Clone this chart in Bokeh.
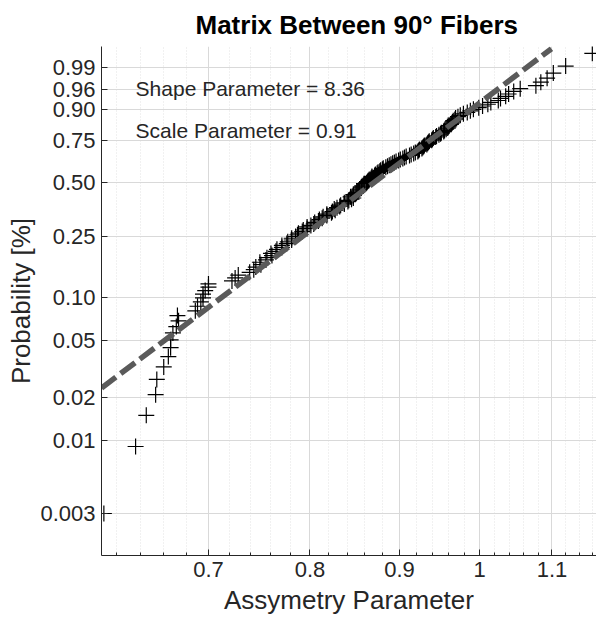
import numpy as np
from bokeh.plotting import figure
from bokeh.models import FixedTicker, Range1d, Label
from bokeh.embed import file_html
from bokeh.resources import INLINE

# ---- data ----
asym = [
    0.610, 0.636, 0.645, 0.653, 0.654, 0.660, 0.664, 0.666, 0.666, 0.668,
    0.671, 0.673, 0.672, 0.688, 0.690, 0.693, 0.695, 0.695, 0.697, 0.700,
    0.700, 0.722, 0.725, 0.728, 0.739, 0.743, 0.745, 0.750, 0.749, 0.755,
    0.756, 0.761, 0.760, 0.765, 0.766, 0.771, 0.771, 0.776, 0.777, 0.781,
    0.781, 0.785, 0.787, 0.788, 0.792, 0.793, 0.797, 0.797, 0.801, 0.804,
    0.805, 0.809, 0.810, 0.813, 0.814, 0.818, 0.818, 0.823, 0.824, 0.827,
    0.826, 0.829, 0.832, 0.833, 0.837, 0.837, 0.841, 0.842, 0.845, 0.847,
    0.844, 0.847, 0.847, 0.850, 0.851, 0.852, 0.853, 0.854, 0.856, 0.856,
    0.857, 0.859, 0.859, 0.862, 0.863, 0.864, 0.865, 0.867, 0.868, 0.868,
    0.871, 0.872, 0.874, 0.875, 0.877, 0.878, 0.880, 0.881, 0.884, 0.886,
    0.888, 0.890, 0.892, 0.894, 0.896, 0.899, 0.901, 0.904, 0.906, 0.908,
    0.912, 0.914, 0.917, 0.919, 0.922, 0.923, 0.924, 0.927, 0.928, 0.929,
    0.930, 0.933, 0.934, 0.935, 0.936, 0.939, 0.940, 0.941, 0.944, 0.945,
    0.948, 0.950, 0.951, 0.954, 0.955, 0.957, 0.959, 0.960, 0.961, 0.963,
    0.964, 0.965, 0.966, 0.968, 0.969, 0.972, 0.975, 0.979, 0.984, 0.988,
    0.992, 0.999, 1.004, 1.011, 1.015, 1.025, 1.028, 1.035, 1.039, 1.046,
    1.055, 1.077, 1.084, 1.093, 1.102, 1.120, 1.160,
]

prob = [
    0.0030, 0.0090, 0.0150, 0.0210, 0.0269, 0.0329, 0.0389, 0.0449, 0.0509, 0.0569,
    0.0629, 0.0689, 0.0749, 0.0808, 0.0868, 0.0928, 0.0988, 0.1048, 0.1108, 0.1168,
    0.1228, 0.1287, 0.1347, 0.1407, 0.1467, 0.1527, 0.1587, 0.1647, 0.1707, 0.1766,
    0.1826, 0.1886, 0.1946, 0.2006, 0.2066, 0.2126, 0.2186, 0.2246, 0.2305, 0.2365,
    0.2425, 0.2485, 0.2545, 0.2605, 0.2665, 0.2725, 0.2784, 0.2844, 0.2904, 0.2964,
    0.3024, 0.3084, 0.3144, 0.3204, 0.3263, 0.3323, 0.3383, 0.3443, 0.3503, 0.3563,
    0.3623, 0.3683, 0.3743, 0.3802, 0.3862, 0.3922, 0.3982, 0.4042, 0.4102, 0.4162,
    0.4222, 0.4281, 0.4341, 0.4401, 0.4461, 0.4521, 0.4581, 0.4641, 0.4701, 0.4760,
    0.4820, 0.4880, 0.4940, 0.5000, 0.5060, 0.5120, 0.5180, 0.5240, 0.5299, 0.5359,
    0.5419, 0.5479, 0.5539, 0.5599, 0.5659, 0.5719, 0.5778, 0.5838, 0.5898, 0.5958,
    0.6018, 0.6078, 0.6138, 0.6198, 0.6257, 0.6317, 0.6377, 0.6437, 0.6497, 0.6557,
    0.6617, 0.6677, 0.6737, 0.6796, 0.6856, 0.6916, 0.6976, 0.7036, 0.7096, 0.7156,
    0.7216, 0.7275, 0.7335, 0.7395, 0.7455, 0.7515, 0.7575, 0.7635, 0.7695, 0.7754,
    0.7814, 0.7874, 0.7934, 0.7994, 0.8054, 0.8114, 0.8174, 0.8234, 0.8293, 0.8353,
    0.8413, 0.8473, 0.8533, 0.8593, 0.8653, 0.8713, 0.8772, 0.8832, 0.8892, 0.8952,
    0.9012, 0.9072, 0.9132, 0.9192, 0.9251, 0.9311, 0.9371, 0.9431, 0.9491, 0.9551,
    0.9611, 0.9671, 0.9731, 0.9790, 0.9850, 0.9910, 0.9970,
]

# fitted reference line (two end points)
fit_x = [0.6081, 1.0993]
fit_p = [0.0234, 0.9981]

y_tick_probs = [0.003, 0.01, 0.02, 0.05, 0.10, 0.25, 0.50, 0.75, 0.90, 0.96, 0.99]
y_tick_labels = ["0.003", "0.01", "0.02", "0.05", "0.10", "0.25", "0.50", "0.75", "0.90", "0.96", "0.99"]
x_ticks = [0.7, 0.8, 0.9, 1.0, 1.1]
x_tick_labels = ["0.7", "0.8", "0.9", "1", "1.1"]
x_minor_ticks = [0.62, 0.64, 0.66, 0.68, 0.72, 0.74, 0.76, 0.78, 0.82, 0.84, 0.86, 0.88,
                 0.92, 0.94, 0.96, 0.98, 1.02, 1.04, 1.06, 1.08, 1.12, 1.14, 1.16]

title_text = "Matrix Between 90° Fibers"
x_label = "Assymetry Parameter"
y_label = "Probability [%]"
shape_text = "Shape Parameter = 8.36"
scale_text = "Scale Parameter = 0.91"


def weib(p):
    p = np.asarray(p, dtype=float)
    return np.log(-np.log(1.0 - p))


FONT = "Liberation Sans"
TXT = "#262626"

p = figure(width=596, height=622, x_axis_type="log",
           x_range=Range1d(0.6081, 1.1664), y_range=Range1d(-6.498, 1.872),
           output_backend="svg", toolbar_location=None,
           min_border_left=101, min_border_right=0, min_border_top=45, min_border_bottom=67)

p.outline_line_color = None
p.background_fill_color = "white"
p.border_fill_color = "white"

# title
p.title.text = title_text
p.title.text_font = FONT
p.title.text_font_size = "26px"
p.title.text_font_style = "bold"
p.title.text_color = "black"
p.title.align = "left"
p.title.offset = 94
p.title.standoff = 14

# y axis (Weibull probability scale)
y_vals = [round(float(v), 6) for v in weib(y_tick_probs)]
p.yaxis.ticker = FixedTicker(ticks=y_vals)
p.yaxis.major_label_overrides = dict(zip(y_vals, y_tick_labels))
p.yaxis.axis_label = y_label

# x axis
p.xaxis.ticker = FixedTicker(ticks=x_ticks, minor_ticks=x_minor_ticks)
p.xaxis.major_label_overrides = dict(zip(x_ticks, x_tick_labels))
p.xaxis.axis_label = x_label

for ax in (p.xaxis, p.yaxis):
    ax.axis_line_color = TXT
    ax.axis_line_width = 1
    ax.major_tick_line_color = TXT
    ax.major_tick_in = 6
    ax.major_tick_out = 0
    ax.minor_tick_in = 3
    ax.minor_tick_out = 0
    ax.major_label_text_font = FONT
    ax.major_label_text_font_size = "22px"
    ax.major_label_text_color = TXT
    ax.axis_label_text_font = FONT
    ax.axis_label_text_font_size = "26px"
    ax.axis_label_text_font_style = "normal"
    ax.axis_label_text_color = TXT

p.yaxis.minor_tick_line_color = None
p.xaxis.minor_tick_line_color = TXT
p.yaxis.major_label_standoff = 6
p.yaxis.axis_label_standoff = 1
p.xaxis.major_label_standoff = 6
p.xaxis.axis_label_standoff = 5

# grid
p.xgrid.grid_line_color = "#d9d9d9"
p.xgrid.minor_grid_line_color = "#e2e2e2"
p.xgrid.minor_grid_line_dash = "1 2"
p.ygrid.grid_line_color = "#d9d9d9"
p.ygrid.minor_grid_line_color = None

# data points
p.scatter(asym, weib(prob), marker="cross", size=16,
          line_color="black", line_width=1.2)

# fit line
p.line(fit_x, weib(fit_p), line_color="#5a5a5a", line_width=5.5, line_dash="18 6")

# annotations
p.add_layout(Label(x=0.636, y=1.18, text=shape_text, text_font=FONT,
                   text_font_size="21px", text_color=TXT, text_baseline="alphabetic"))
p.add_layout(Label(x=0.636, y=0.49, text=scale_text, text_font=FONT,
                   text_font_size="21px", text_color=TXT, text_baseline="alphabetic"))

open("out.html", "w").write(file_html(p, INLINE))
